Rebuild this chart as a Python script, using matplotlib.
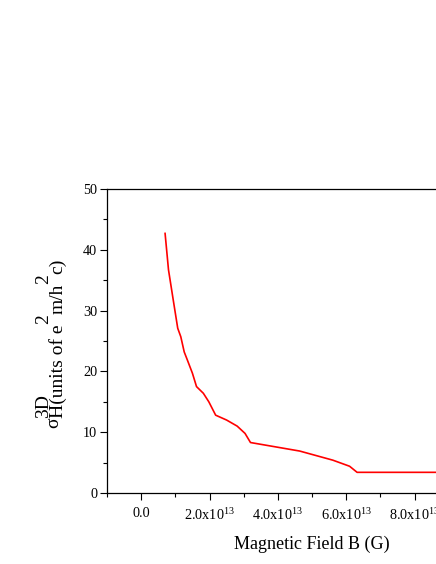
import matplotlib
matplotlib.use("Agg")
import matplotlib.pyplot as plt
from matplotlib.ticker import FixedLocator, MultipleLocator

plt.rcParams["font.family"] = "Liberation Serif"
plt.rcParams["mathtext.fontset"] = "custom"
plt.rcParams["mathtext.rm"] = "Liberation Serif"

# %%
# Data (B in units of 1e13 G)
field_b = [0.70, 0.80, 0.94, 1.07, 1.16, 1.26, 1.35, 1.50, 1.62, 1.82, 1.98,
           2.18, 2.50, 2.81, 3.04, 3.20, 4.64, 5.61, 6.10, 6.32, 9.00]
sigma_h = [42.7, 36.7, 31.7, 27.1, 25.7, 23.2, 21.9, 19.7, 17.5, 16.4, 15.0,
           12.8, 12.0, 11.0, 9.8, 8.3, 6.9, 5.4, 4.4, 3.4, 3.4]

x_ticks = [0, 2, 4, 6, 8, 10]
x_tick_labels = ["0.0", "2.0x10$^{13}$", "4.0x10$^{13}$", "6.0x10$^{13}$",
                 "8.0x10$^{13}$", "1.0x10$^{14}$"]
y_ticks = [0, 10, 20, 30, 40, 50]

# %%
W, H = 436, 564
fig = plt.figure(figsize=(W / 100, H / 100), dpi=100)

# axes runs past the right edge of the figure, like the cropped original
left, right = 107, 517
bottom, top = 493, 189
ax = fig.add_axes([left / W, 1 - bottom / H, (right - left) / W, (bottom - top) / H])

ax.plot([b * 1e13 for b in field_b], sigma_h, color="#ff0000", lw=1.2)

ax.set_xlim(-1e13, 11e13)
ax.set_ylim(0, 50)

ax.xaxis.set_major_locator(FixedLocator([t * 1e13 for t in x_ticks]))
ax.set_xticklabels(x_tick_labels)
ax.xaxis.set_minor_locator(MultipleLocator(1e13))
ax.yaxis.set_major_locator(FixedLocator(y_ticks))
ax.yaxis.set_minor_locator(MultipleLocator(5))

ax.tick_params(which="both", direction="out", width=0.8, labelsize=10.3)
ax.tick_params(which="major", length=5)
ax.tick_params(which="minor", length=3)
ax.tick_params(axis="x", pad=5)
ax.tick_params(axis="y", pad=2)
for s in ax.spines.values():
    s.set_linewidth(0.9)

ax.set_xlabel("Magnetic Field B (G)", fontsize=13, labelpad=9)

# %%
# y label built piece by piece: sigma, 3D up, H(units ...) down, powers up
renderer = fig.canvas.get_renderer()
fs = 14
sigma_base = 58.5
up_base = 48
down_base = 62.5
y_disp = H - 428


def piece(text, base_x, y0):
    t = fig.text(base_x / W, y0 / H, text, rotation=90, rotation_mode="anchor",
                 ha="left", va="baseline", fontsize=fs)
    return t.get_window_extent(renderer).height


y_disp += piece("\u03c3", sigma_base, y_disp)
piece("3D", up_base, y_disp)
y_disp += piece("H(units of e", down_base, y_disp)
y_disp += piece("2", up_base, y_disp)
y_disp += piece("m/h", down_base, y_disp)
y_disp += piece("2", up_base, y_disp)
piece("c)", down_base, y_disp)

fig.savefig("out.png", dpi=100)
